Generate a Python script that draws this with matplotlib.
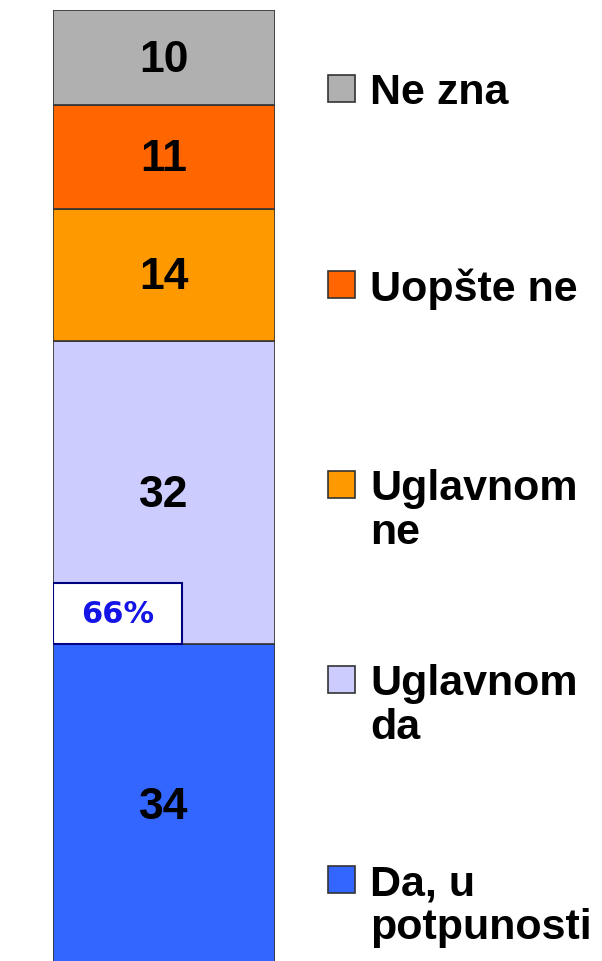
import matplotlib
matplotlib.use("Agg")
import matplotlib.pyplot as plt
from matplotlib.patches import Rectangle

categories = ["Da, u\npotpunosti", "Uglavnom\nda", "Uglavnom\nne", "Uopšte ne", "Ne zna"]
values = [34, 32, 14, 11, 10]
colors = ["#3366FF", "#CCCCFF", "#FF9900", "#FF6600", "#B0B0B0"]
summary_label = "66%"
summary_value = 66

fig = plt.figure(figsize=(6.02, 9.62), dpi=100)
ax = fig.add_axes([53/602, -4/962, 222/602, (962 - 11 + 4)/962])

bottom = 0
for v, c in zip(values, colors):
    ax.bar(0, v, bottom=bottom, width=1.0, color=c, edgecolor="#333333", linewidth=1.2)
    ax.text(0, bottom + v/2 - 0.2, str(v), ha="center", va="center",
            fontsize=32, fontweight="bold", family="Liberation Sans", color="black")
    bottom += v

ax.set_xlim(-0.5, 0.5)
ax.set_ylim(0, sum(values))
ax.axis("off")

# summary box (Da + Uglavnom da)
ax.add_patch(Rectangle((-0.5, values[0]), 0.58, 6.4, facecolor="white",
                       edgecolor="#000080", linewidth=1.5, zorder=5))
ax.text(-0.5 + 0.29, values[0] + 3.2, summary_label, ha="center", va="center",
        fontsize=22, fontweight="bold", family="DejaVu Sans", color="#1414E6", zorder=6)

# legend
leg_y = [880, 680, 485, 285, 89]
for lab, c, y in zip(categories, colors, leg_y):
    fig.add_artist(Rectangle((328/602, 1 - (y + 14)/962), 27/602, 27/962,
                             transform=fig.transFigure, facecolor=c,
                             edgecolor="#333333", linewidth=1.2))
    fig.text(370/602, 1 - (y - 16)/962, lab, ha="left", va="top",
             fontsize=31, fontweight="bold", family="Liberation Sans",
             linespacing=1.12)

fig.savefig("out.png", dpi=100)
